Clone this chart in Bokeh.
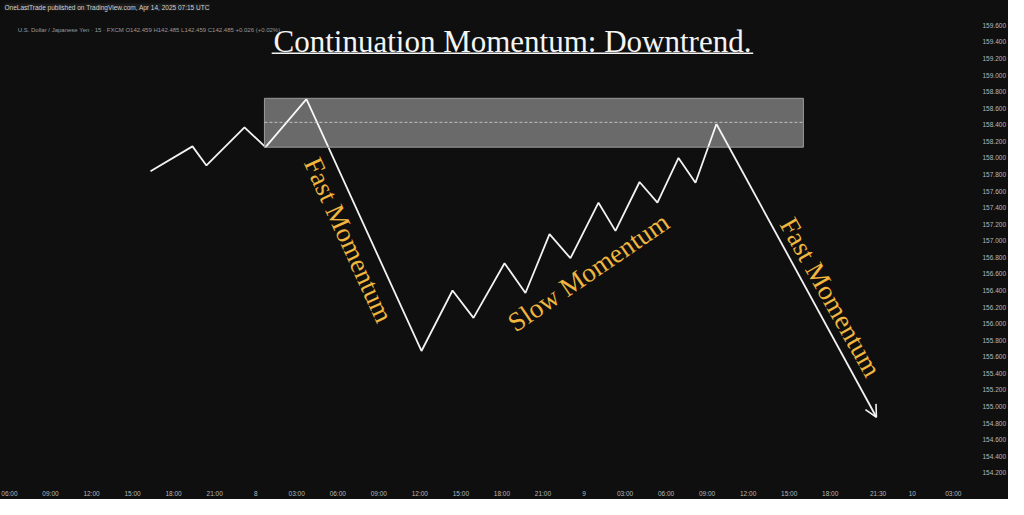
from bokeh.plotting import figure
from bokeh.models import Range1d, FixedTicker, Label, Title, Arrow, OpenHead, NumeralTickFormatter
from bokeh.embed import file_html
from bokeh.resources import INLINE

# Czas w godzinach od 7 kwietnia 00:00, ceny USD/JPY
path_x = [16.31, 19.38, 20.40, 23.18, 24.72, 27.71, 36.12, 38.39, 39.92, 42.19,
          43.72, 45.48, 47.01, 49.06, 50.30, 52.06, 53.37, 54.91, 56.15, 57.68]
path_y = [157.84, 158.14, 157.91, 158.37, 158.13, 158.71, 155.67, 156.40, 156.07, 156.73,
          156.37, 157.08, 156.79, 157.46, 157.12, 157.71, 157.46, 158.00, 157.70, 158.41]
arrow_x = [57.68, 69.38]
arrow_y = [158.41, 154.87]

# Strefa oporu
zone_x = [24.64, 64.04]
zone_y = [158.13, 158.72]
zone_mid = 158.43

price_ticks = [154.2, 154.4, 154.6, 154.8, 155.0, 155.2, 155.4, 155.6, 155.8, 156.0,
               156.2, 156.4, 156.6, 156.8, 157.0, 157.2, 157.4, 157.6, 157.8, 158.0,
               158.2, 158.4, 158.6, 158.8, 159.0, 159.2, 159.4, 159.6]
time_ticks = [6, 9, 12, 15, 18, 21, 24, 27, 30, 33, 36, 39, 42, 45, 48,
              51, 54, 57, 60, 63, 66, 69.5, 72, 75]
time_labels = ["06:00", "09:00", "12:00", "15:00", "18:00", "21:00", "8", "03:00",
               "06:00", "09:00", "12:00", "15:00", "18:00", "21:00", "9", "03:00",
               "06:00", "09:00", "12:00", "15:00", "18:00", "21:30", "10", "03:00"]

# Napisy: tekst, x, y, kąt
notes = [("Fast Momentum", 30.78, 157.01, -65.5),
         ("Slow Momentum", 48.33, 156.62, 34.3),
         ("Fast Momentum", 66.02, 156.32, -60.5)]
title_text = "Continuation Momentum: Downtrend."
title_pos = (42.77, 159.405)
underline_y = 159.265

gold = "#f0b63e"
bg = "#0f0f0f"

p = figure(width=1008, height=499,
           x_range=Range1d(5.345, 75.67), y_range=Range1d(154.143, 159.768),
           y_axis_location="right", output_backend="svg", toolbar_location=None,
           min_border_left=0, min_border_right=46, min_border_top=0, min_border_bottom=0,
           background_fill_color=bg, border_fill_color=bg)
p.outline_line_color = None
p.grid.grid_line_color = None
p.styles = {"background-color": bg}

# oś cen
p.yaxis.ticker = FixedTicker(ticks=price_ticks)
p.yaxis.formatter = NumeralTickFormatter(format="0.000")
p.yaxis.axis_line_color = None
p.yaxis.major_tick_line_color = None
p.yaxis.minor_tick_line_color = None
p.yaxis.major_label_standoff = 14
p.yaxis.major_label_text_color = "#b8b8b8"
p.yaxis.major_label_text_font_size = "6.5px"
p.yaxis.major_label_text_font = "Liberation Sans"

# oś czasu
p.xaxis.ticker = FixedTicker(ticks=time_ticks)
p.xaxis.major_label_overrides = {t: lab for t, lab in zip(time_ticks, time_labels)}
p.xaxis.axis_line_color = None
p.xaxis.major_tick_line_color = None
p.xaxis.minor_tick_line_color = None
p.xaxis.major_label_standoff = 6
p.xaxis.major_label_text_color = "#b8b8b8"
p.xaxis.major_label_text_font_size = "6.5px"
p.xaxis.major_label_text_font = "Liberation Sans"

# nagłówek
head = Title(text="OneLastTrade published on TradingView.com, Apr 14, 2025 07:15 UTC",
             align="left", text_font="Liberation Sans", text_font_size="6.5px",
             text_font_style="normal", text_color="#d2d2d2",
             background_fill_color="#1c1c1c", offset=4, standoff=2)
p.add_layout(head, "above")

p.add_layout(Label(x=6.6, y=159.55,
                   text="U.S. Dollar / Japanese Yen · 15 · FXCM  O142.459  H142.485  L142.459  C142.485  +0.026 (+0.02%)",
                   text_font="Liberation Sans", text_font_size="6px", text_color="#9a9a9a",
                   text_baseline="middle"))

# linia ceny
p.line(path_x, path_y, line_color="#f2f2f2", line_width=1.8)
p.add_layout(Arrow(end=OpenHead(size=12, line_color="#f2f2f2", line_width=1.6),
                   x_start=arrow_x[0], y_start=arrow_y[0], x_end=arrow_x[1], y_end=arrow_y[1],
                   line_color="#f2f2f2", line_width=1.8))

# strefa
p.quad(left=[zone_x[0]], right=[zone_x[1]], bottom=[zone_y[0]], top=[zone_y[1]],
       fill_color="#ffffff", fill_alpha=0.38, line_color="#9a9a9a", line_width=1)
p.line(zone_x, [zone_mid, zone_mid], line_color="#d8d8d8", line_width=0.8, line_dash="3 2")

for txt, nx, ny, ang in notes:
    p.add_layout(Label(x=nx, y=ny, text=txt, angle=ang, angle_units="deg",
                       text_align="center", text_baseline="middle",
                       text_font="Liberation Serif", text_font_size="27px", text_color=gold))

p.add_layout(Label(x=title_pos[0], y=title_pos[1], text=title_text,
                   text_align="center", text_baseline="alphabetic",
                   text_font="Liberation Serif", text_font_size="31px", text_color="#f4f4f4"))
# podkreślenie tytułu
p.line([title_pos[0] - 17.6, title_pos[0] + 17.6], [underline_y, underline_y],
       line_color="#f4f4f4", line_width=1.5)

open("out.html", "w").write(file_html(p, INLINE))
